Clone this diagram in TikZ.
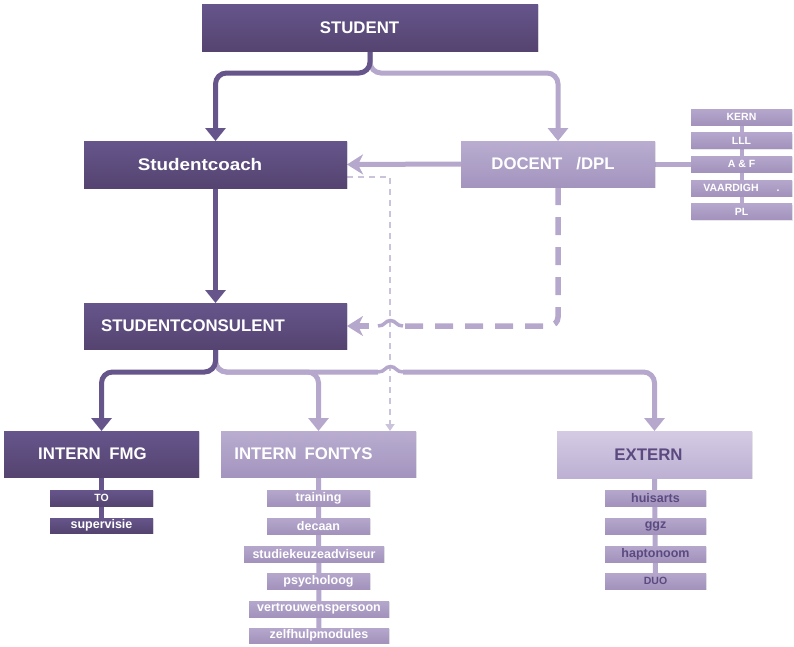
\documentclass[tikz,border=0pt]{standalone}
\usepackage{fontspec}
\usepackage{graphicx}
\setmainfont{Liberation Sans}
\usetikzlibrary{arrows.meta,backgrounds,shadows,calc}
\definecolor{dkA}{HTML}{65558B}
\definecolor{dkB}{HTML}{554470}
\definecolor{mdA}{HTML}{B9ADD0}
\definecolor{mdB}{HTML}{A394BE}
\definecolor{sbA}{HTML}{B5A7CC}
\definecolor{sbB}{HTML}{A292BC}
\definecolor{ltA}{HTML}{D4CBE3}
\definecolor{ltB}{HTML}{BDB0D3}
\definecolor{dkT}{HTML}{5B4A80}
\definecolor{lnc}{HTML}{B5A8CC}
\definecolor{dotc}{HTML}{CBC2DB}
\newcommand\bx[7]{\node[#6, minimum width={(#4)-(#2)}, minimum height={(#5)-(#3)}] (#1) at ({((#2)+(#4))/2},{((#3)+(#5))/2}) {#7};}
\newcommand\padr[1]{\rule{#1}{0pt}}
\begin{document}
\begin{tikzpicture}[x=1pt,y=-1pt,
  nbox/.style={inner sep=0pt, outer sep=0pt, font=\bfseries,
    drop shadow={shadow xshift=1.2pt, shadow yshift=-1.2pt, opacity=0.18}},
  dkbox/.style={nbox, top color=dkA, bottom color=dkB, text=white},
  mdbox/.style={nbox, top color=mdA, bottom color=mdB, text=white},
  ltbox/.style={nbox, top color=ltA, bottom color=ltB, text=dkT},
  dksub/.style={nbox, top color=dkA, bottom color=dkB, text=white},
  mdsub/.style={nbox, top color=sbA, bottom color=sbB, text=white},
  exsub/.style={nbox, top color=sbA, bottom color=sbB, text=dkT},
  hd/.style={font=\fontsize{16.8}{18}\selectfont\bfseries},
  sc/.style={font=\fontsize{10.5}{12}\selectfont\bfseries},
  lc/.style={font=\fontsize{12.5}{14}\selectfont\bfseries},
  dkl/.style={draw=dkA, line width=5pt, rounded corners=11pt},
  ltl/.style={draw=lnc, line width=5pt, rounded corners=11pt},
  hopl/.style={draw=lnc, line width=3.5pt},
  dsh/.style={draw=lnc, line width=5.5pt, dash pattern=on 18pt off 12pt},
  tipT/.style={-{Triangle[width=20pt,length=13pt]}},
  tipS/.style={-{Stealth[width=20pt,length=16pt,inset=5pt]}}
]
\useasboundingbox (0,0) rectangle (794,646);

% main boxes
\bx{student}{202}{4}{538}{51}{dkbox,hd}{STUDENT\padr{21pt}}
\bx{coach}{84}{141}{347}{188}{dkbox,hd}{\scalebox{1.12}[1]{Studentcoach}\padr{31pt}}
\bx{docent}{461}{141}{655}{187}{mdbox,hd}{DOCENT\hspace{14pt}/DPL\padr{10pt}}
\bx{cons}{84}{303}{347}{349}{dkbox,hd}{STUDENTCONSULENT\padr{45pt}}
\bx{fmg}{4}{431}{199}{477}{dkbox,hd}{INTERN\hspace{4pt} FMG\padr{18pt}}
\bx{fontys}{221}{431}{416}{477}{mdbox,hd}{INTERN\hspace{3pt} FONTYS\padr{30pt}}
\bx{extern}{557}{431}{752}{478}{ltbox,hd}{EXTERN\padr{12pt}}

% side list
\bx{kern}{691}{109}{792}{125}{mdsub,sc}{KERN}
\bx{lll}{691}{132.5}{792}{148.5}{mdsub,sc}{LLL}
\bx{af}{691}{156}{792}{172}{mdsub,sc}{A \& F}
\bx{vaard}{691}{180}{792}{196}{mdsub,sc}{VAARDIGH\hspace{18pt}.}
\bx{pl}{691}{203.5}{792}{219.5}{mdsub,sc}{PL}

% intern fmg list
\bx{to}{50}{490}{153}{506}{dksub,sc}{TO}
\bx{sup}{50}{518}{153}{533}{dksub,lc}{supervisie}

% intern fontys list
\bx{train}{267}{490}{370}{506}{mdsub,lc}{training}
\bx{dec}{267}{518}{370}{534}{mdsub,lc}{decaan}
\bx{skz}{244}{546}{384}{562}{mdsub,lc}{studiekeuzeadviseur}
\bx{psy}{267}{573}{370}{589}{mdsub,lc}{psycholoog}
\bx{vtp}{249}{601}{389}{617}{mdsub,lc}{vertrouwenspersoon}
\bx{zelf}{249}{628}{389}{643}{mdsub,lc}{zelfhulpmodules}

% extern list
\bx{huis}{605}{490}{706}{506}{exsub,lc}{huisarts}
\bx{ggz}{605}{518}{706}{534}{exsub,lc}{ggz}
\bx{hapt}{605}{546}{706}{562}{exsub,lc}{haptonoom}
\bx{duo}{605}{573}{706}{589}{exsub,sc}{DUO}

\begin{scope}[on background layer]
  % student branches
  \draw[ltl,tipT] (student.south) -- ++(0,22) -| (docent.north);
  \draw[dkl,tipT] (student.south) -- ++(0,22) -| (coach.north);
  % coach to consulent
  \draw[dkl,tipT] (coach.south) -- (cons.north);
  % docent to coach
  \draw[ltl,tipS] (docent.west) -- (coach.east);
  % docent to A&F
  \draw[ltl] (docent.east) -- (af.west);
  % side spine
  \draw[lnc, line width=4pt] (kern.center) -- (pl.center);
  % dotted coach -> fontys
  \coordinate (c1) at ($(coach.south east)+(0,-11)$);
  \coordinate (c2) at ($(fontys.north east)+(-26,0)$);
  \draw[dotc, line width=2.5pt, dash pattern=on 6pt off 5pt,
        -{Triangle[width=9pt,length=7pt]}] (c1) -| (c2);
  % thick dashed docent -> consulent (with hop over dotted line)
  \coordinate (h2a) at (403,326);
  \coordinate (h2b) at (378,326);
  \coordinate (h2c) at (369,326);
  \draw[dsh, rounded corners=9pt] (docent.south) |- (h2a);
  \draw[hopl] (h2a) .. controls (396,326) and (396,320.5) .. (390.5,320.5)
    .. controls (385,320.5) and (385,326) .. (h2b);
  \draw[draw=lnc, line width=5.5pt, tipS] (h2c) -- (cons.east);
  % consulent branches (with hop)
  \coordinate (j2) at ($(cons.south)+(0,23)$);
  \coordinate (h1a) at (378,372);
  \coordinate (h1b) at (403,372);
  \draw[ltl] (cons.south) -- (j2) -- (h1a);
  \draw[hopl] (h1a) .. controls (385,372) and (385,366.5) .. (390.5,366.5)
    .. controls (396,366.5) and (396,372) .. (h1b);
  \draw[ltl,tipT] (h1b) -| (extern.north);
  \draw[ltl,tipT] (cons.south) -- (j2) -| (fontys.north);
  \draw[dkl,tipT] (cons.south) -- (j2) -| (fmg.north);
  % list spines
  \draw[dkA, line width=5pt] (fmg.south) -- (sup.center);
  \draw[lnc, line width=5pt] (fontys.south) -- (zelf.center);
  \draw[lnc, line width=5pt] (extern.south) -- (duo.center);
\end{scope}
\end{tikzpicture}
\end{document}
